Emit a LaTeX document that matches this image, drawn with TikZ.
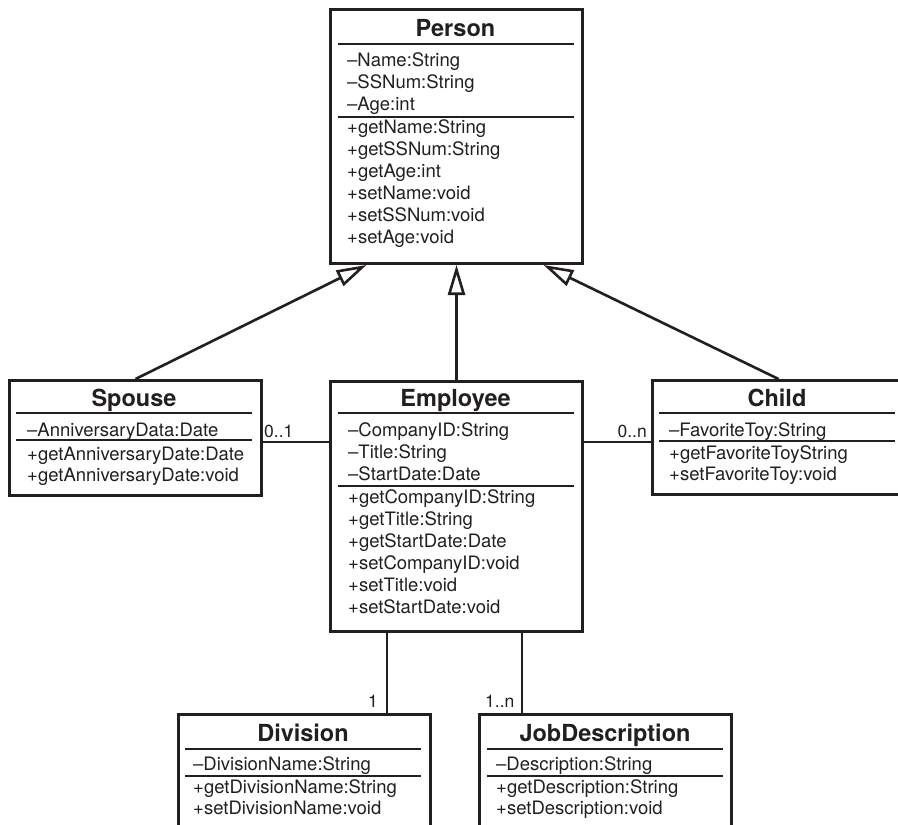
\documentclass[tikz,border=0pt]{standalone}
\usepackage{fontspec}
\setmainfont{TeX Gyre Heros}
\usetikzlibrary{arrows.meta}
\definecolor{ink}{RGB}{35,31,32}
\begin{document}
\begin{tikzpicture}[x=1pt,y=-1pt,
  classbox/.style={draw=ink, line width=3pt, fill=white, minimum width=252pt, inner sep=0pt, anchor=north west},
  sepline/.style={draw=ink, line width=1.4pt},
  member/.style={anchor=base west, inner sep=0pt, font=\fontsize{18.5}{22}\selectfont, text=ink},
  ctitle/.style={anchor=base, inner sep=0pt, font=\fontsize{23.5}{28}\selectfont\bfseries, text=ink},
  mult/.style={inner sep=0pt, font=\fontsize{17.5}{20}\selectfont, text=ink},
  link/.style={draw=ink, line width=2.6pt},
  inherit/.style={link, -{Triangle[open, length=30pt, width=17pt]}}
]
\path[use as bounding box] (0,0) rectangle (898,825);
\fill[white] (0,0) rectangle (898,825);
\clip (0,0) rectangle (898,825);

% Person
\node[classbox, minimum height=254pt] (person) at (329,8) {};
\node[ctitle] (personT) at (455.5,36.5) {Person};
\draw[sepline] (338,44) -- (574,44);
\draw[sepline] (338,117) -- (574,117);
\node[member] (p1) at (347,66) {–Name:String};
\node[member] (p2) at (347,88) {–SSNum:String};
\node[member] (p3) at (347,110) {–Age:int};
\node[member] (p4) at (347,133.5) {+getName:String};
\node[member] (p5) at (347,155.5) {+getSSNum:String};
\node[member] (p6) at (347,177.5) {+getAge:int};
\node[member] (p7) at (347,199.5) {+setName:void};
\node[member] (p8) at (347,221.5) {+setSSNum:void};
\node[member] (p9) at (347,243.5) {+setAge:void};

% Spouse
\node[classbox, minimum height=115pt] (spouse) at (8,379) {};
\node[ctitle] (spouseT) at (134,406.5) {Spouse};
\draw[sepline] (16,413) -- (252,413);
\draw[sepline] (16,440) -- (252,440);
\node[member] (s1) at (27,436.5) {–AnniversaryData:Date};
\node[member] (s2) at (27,460.5) {+getAnniversaryDate:Date};
\node[member] (s3) at (27,481) {+getAnniversaryDate:void};

% Employee
\node[classbox, minimum height=250pt] (employee) at (329,380) {};
\node[ctitle] (employeeT) at (455.5,406.5) {Employee};
\draw[sepline] (338,413) -- (574,413);
\draw[sepline] (338,486) -- (574,486);
\node[member] (e1) at (348,436.5) {–CompanyID:String};
\node[member] (e2) at (348,458.5) {–Title:String};
\node[member] (e3) at (348,480.5) {–StartDate:Date};
\node[member] (e4) at (348,503.5) {+getCompanyID:String};
\node[member] (e5) at (348,525.5) {+getTitle:String};
\node[member] (e6) at (348,547.5) {+getStartDate:Date};
\node[member] (e7) at (348,569.5) {+setCompanyID:void};
\node[member] (e8) at (348,591.5) {+setTitle:void};
\node[member] (e9) at (348,613.5) {+setStartDate:void};

% Child
\node[classbox, minimum height=114pt] (child) at (651,379) {};
\node[ctitle] (childT) at (777,406.5) {Child};
\draw[sepline] (659,413) -- (895,413);
\draw[sepline] (659,441) -- (895,441);
\node[member] (c1) at (669,436.5) {–FavoriteToy:String};
\node[member] (c2) at (669,459.5) {+getFavoriteToyString};
\node[member] (c3) at (669,480) {+setFavoriteToy:void};

% Division
\node[classbox, minimum height=150pt] (division) at (177,713) {};
\node[ctitle] (divisionT) at (303,741.5) {Division};
\draw[sepline] (185,749) -- (421,749);
\draw[sepline] (185,776) -- (421,776);
\node[member] (d1) at (193,770.5) {–DivisionName:String};
\node[member] (d2) at (193,793.5) {+getDivisionName:String};
\node[member] (d3) at (193,814.5) {+setDivisionName:void};

% JobDescription
\node[classbox, minimum height=150pt] (job) at (478,713) {};
\node[ctitle] (jobT) at (605,741.5) {JobDescription};
\draw[sepline] (487,749) -- (723,749);
\draw[sepline] (487,776) -- (723,776);
\node[member] (j1) at (496,770.5) {–Description:String};
\node[member] (j2) at (496,793.5) {+getDescription:String};
\node[member] (j3) at (496,814.5) {+setDescription:void};

% Generalizations
\draw[inherit] (spouse.north) -- ([xshift=-90pt]person.south);
\draw[inherit] (employee.north) -- (person.south);
\draw[inherit] (child.north) -- ([xshift=87pt]person.south);

% Associations
\coordinate (hrow) at (0,442);
\draw[link] (spouse.east |- hrow) -- (employee.west |- hrow);
\draw[link] (employee.east |- hrow) -- (child.west |- hrow);
\coordinate (vdiv) at (387,0);
\coordinate (vjob) at (522,0);
\draw[link] (employee.south -| vdiv) -- (division.north -| vdiv);
\draw[link] (employee.south -| vjob) -- (job.north -| vjob);

% Multiplicities
\node[mult, anchor=base west] (m01) at (264,437.5) {0..1};
\node[mult, anchor=base east] (m0n) at (647,437.5) {0..n};
\node[mult, anchor=base east] (m1) at (378,707.5) {1};
\node[mult, anchor=base west] (m1n) at (485,707.5) {1..n};
\end{tikzpicture}
\end{document}
